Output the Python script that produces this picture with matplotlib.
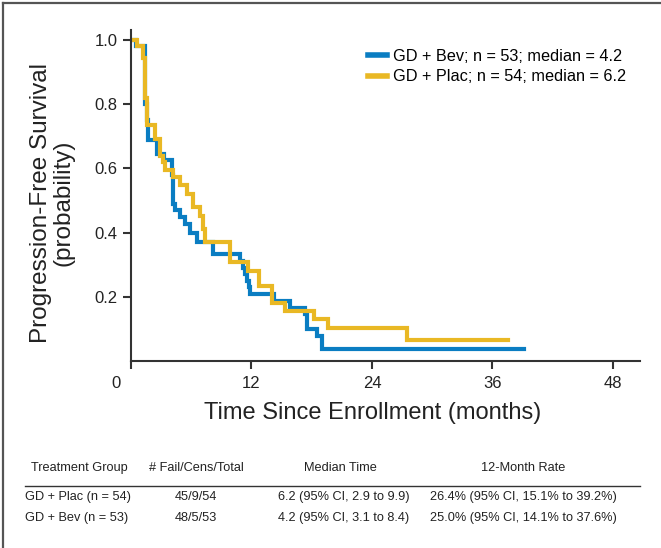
import numpy as np
import matplotlib
matplotlib.use("Agg")
import matplotlib.pyplot as plt
from matplotlib import font_manager
from matplotlib.lines import Line2D
from matplotlib.transforms import ScaledTranslation

# Kaplan-Meier step data (months, survival probability)
bev_t = [0, 0.5, 1.4, 1.6, 1.73, 2.55, 3.3, 4.05, 4.15, 4.2, 4.4, 4.9, 5.4,
         5.9, 6.55, 8.2, 10.9, 11.2, 11.4, 11.6, 11.8, 11.9, 14.2, 15.8,
         17.3, 17.5, 18.5, 19.0, 39.1]
bev_s = [1.0, 0.981, 0.80, 0.75, 0.6875, 0.646, 0.627, 0.58, 0.53, 0.49,
         0.469, 0.448, 0.427, 0.40, 0.37, 0.333, 0.3125, 0.29, 0.27, 0.25,
         0.229, 0.208, 0.1875, 0.166, 0.146, 0.099, 0.078, 0.037, 0.037]

plac_t = [0, 0.6, 1.2, 1.4, 1.55, 2.4, 2.9, 3.15, 3.4, 4.15, 4.9, 5.55, 6.2,
          6.9, 7.2, 7.4, 9.86, 11.65, 12.7, 14.0, 15.3, 18.2, 19.65, 27.5,
          37.55]
plac_s = [1.0, 0.981, 0.944, 0.82, 0.734, 0.69, 0.64, 0.62, 0.594, 0.573,
          0.547, 0.52, 0.48, 0.453, 0.41, 0.37, 0.307, 0.281, 0.234, 0.182,
          0.156, 0.13, 0.102, 0.066, 0.066]

legend_labels = ["GD + Bev; n = 53; median = 4.2",
                 "GD + Plac; n = 54; median = 6.2"]
x_ticks = [0, 12, 24, 36, 48]
y_ticks = [0.2, 0.4, 0.6, 0.8, 1.0]

table_header = ["Treatment Group", "# Fail/Cens/Total", "Median Time",
                "12-Month Rate"]
table_rows = [
    ["GD + Plac (n = 54)", "45/9/54", "6.2 (95% CI, 2.9 to 9.9)",
     "26.4% (95% CI, 15.1% to 39.2%)"],
    ["GD + Bev (n = 53)", "48/5/53", "4.2 (95% CI, 3.1 to 8.4)",
     "25.0% (95% CI, 14.1% to 37.6%)"],
]

BLUE = "#0a7dc2"
GOLD = "#e9b824"
AXC = "#333333"
TXT = "#222222"

installed = {f.name for f in font_manager.fontManager.ttflist}
main_font = "Liberation Sans" if "Liberation Sans" in installed else "DejaVu Sans"
plt.rcParams["font.family"] = main_font

W, H = 661, 548
fig = plt.figure(figsize=(W / 100, H / 100), dpi=100)

def fx(px):
    return px / W

def fy(py):
    return 1 - py / H

ax = fig.add_axes([fx(131), fy(361), fx(640) - fx(131), fy(30) - fy(361)])
ax.step(bev_t, bev_s, where="post", color=BLUE, lw=3.0, solid_joinstyle="miter")
ax.step(plac_t, plac_s, where="post", color=GOLD, lw=3.0, solid_joinstyle="miter")
ax.set_xlim(0, 50.7)
ax.set_ylim(0, 1.031)

for side in ["top", "right"]:
    ax.spines[side].set_visible(False)
for side in ["left", "bottom"]:
    ax.spines[side].set_color(AXC)
    ax.spines[side].set_linewidth(1.5)

ax.set_xticks(x_ticks)
ax.set_yticks(y_ticks)
ax.set_yticklabels(["%.1f" % v for v in y_ticks])
ax.tick_params(axis="both", colors=AXC, width=1.5, length=6, labelsize=12,
               labelcolor=TXT)
ax.tick_params(axis="x", pad=5)
lab0 = ax.get_xticklabels()[0]
lab0.set_transform(lab0.get_transform() +
                   ScaledTranslation(-15 / 100, 0, fig.dpi_scale_trans))

ax.set_xlabel("Time Since Enrollment (months)", fontsize=17, color=TXT)
ax.xaxis.set_label_coords((373 - 131) / (640 - 131), -(413 - 361) / 331,
                          transform=ax.transAxes)
ax.xaxis.label.set_va("center")
ax.set_ylabel("Progression-Free Survival\n(probability)", fontsize=17.5,
              color=TXT, linespacing=1.05)
ax.yaxis.set_label_coords(-(131 - 52) / 509, (360 - 202) / 331,
                          transform=ax.transAxes)
ax.yaxis.label.set_va("center")

handles = [Line2D([], [], color=BLUE, lw=4), Line2D([], [], color=GOLD, lw=4)]
ax.legend(handles, legend_labels, loc="upper left",
          bbox_to_anchor=((358 - 131) / (640 - 131), 1 - 9 / 331),
          frameon=False, fontsize=11.7, handlelength=1.2, handletextpad=0.35,
          labelspacing=0.35, borderaxespad=0.2)

# summary table under the chart
col_x = [79, 196, 340, 523]
for j in range(4):
    fig.text(fx(col_x[j]), fy(468), table_header[j], ha="center",
             va="center", fontsize=9.2, color=TXT)
fig.add_artist(Line2D([fx(25), fx(640)], [fy(486), fy(486)], color=AXC,
                      lw=1.0))
row_y = [497, 518]
row_x = [25, 196, 344, 523]
for i, row in enumerate(table_rows):
    fig.text(fx(row_x[0]), fy(row_y[i]), row[0], ha="left", va="center",
             fontsize=9.2, color=TXT)
    for j in range(1, 4):
        fig.text(fx(row_x[j]), fy(row_y[i]), row[j], ha="center",
                 va="center", fontsize=9.2, color=TXT)

# frame on left and top of the figure panel
fig.add_artist(Line2D([fx(3), fx(3)], [0, fy(3)], color="#555555", lw=1.6))
fig.add_artist(Line2D([fx(3), 1], [fy(3), fy(3)], color="#555555", lw=1.6))

fig.savefig("out.png", dpi=100)
